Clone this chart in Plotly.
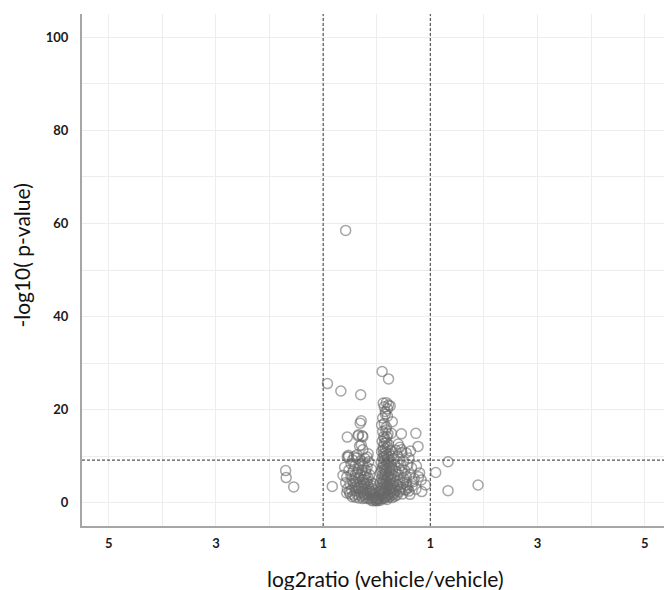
import plotly.graph_objects as go

# ---- data (log2ratio, -log10 p-value) ----
outliers = [
    (-0.58, 58.5), (-0.92, 25.6), (-0.67, 24.0), (-0.30, 23.2), (0.10, 28.2), (0.22, 26.6),
    (0.12, 21.4), (0.18, 21.5), (0.22, 21.0), (0.14, 20.6), (0.20, 20.2), (0.16, 19.6), (0.25, 20.8),
    (-0.29, 17.6), (-0.31, 17.1), (0.11, 18.2), (0.29, 17.4), (0.09, 16.7), (0.18, 16.2),
    (0.46, 14.8), (-0.55, 14.1), (-0.35, 14.4), (-0.27, 14.4), (0.21, 14.8), (0.27, 14.9), (0.13, 14.2),
    (0.73, 14.9), (0.77, 12.1), (0.63, 11.1), (0.43, 11.9), (0.46, 11.4), (0.55, 10.7),
    (1.33, 8.8), (1.10, 6.5), (1.33, 2.6), (0.91, 3.8), (0.84, 2.4), (0.80, 6.4), (0.74, 7.9),
    (0.83, 4.9), (0.55, 2.8), (0.55, 5.6), (1.89, 3.8),
    (-1.70, 6.9), (-1.69, 5.4), (-1.55, 3.4), (-0.83, 3.5), (-0.63, 5.9), (-0.55, 9.9),
    (-0.34, 14.6), (-0.26, 14.2), (-0.32, 12.2), (-0.26, 11.4), (-0.18, 9.8),
]

right_arm = [
    (0.15, 13.8), (0.19, 14.2), (0.11, 15.3), (0.17, 15.6), (0.14, 17.0), (0.20, 18.6), (0.16, 19.0),
    (0.10, 13.2), (0.14, 12.8), (0.18, 13.0), (0.22, 12.5), (0.12, 12.0), (0.16, 11.6), (0.20, 11.9),
    (0.25, 11.2), (0.09, 11.0), (0.13, 10.5), (0.18, 10.2), (0.23, 10.6), (0.28, 10.0), (0.11, 9.6),
    (0.15, 9.2), (0.20, 9.4), (0.26, 9.0), (0.31, 9.5), (0.08, 8.7), (0.12, 8.3), (0.17, 8.0),
    (0.22, 8.5), (0.27, 7.9), (0.33, 8.2), (0.38, 8.8), (0.10, 7.5), (0.14, 7.1), (0.19, 7.3),
    (0.24, 6.9), (0.30, 7.2), (0.36, 6.8), (0.42, 7.4), (0.07, 6.4), (0.11, 6.0), (0.16, 6.2),
    (0.21, 5.8), (0.27, 6.1), (0.33, 5.7), (0.40, 6.0), (0.47, 6.5), (0.09, 5.2), (0.13, 4.9),
    (0.18, 5.0), (0.24, 4.7), (0.29, 5.1), (0.35, 4.6), (0.43, 4.9), (0.50, 5.3), (0.06, 4.2),
    (0.10, 3.9), (0.15, 4.0), (0.20, 3.7), (0.26, 3.9), (0.32, 3.5), (0.38, 3.8), (0.45, 3.4),
    (0.55, 3.9), (0.08, 3.1), (0.12, 2.8), (0.17, 3.0), (0.22, 2.7), (0.28, 2.9), (0.35, 2.6),
    (0.42, 2.4), (0.52, 2.8), (0.60, 2.5), (0.05, 2.3), (0.10, 2.0), (0.15, 2.1), (0.20, 1.9),
    (0.25, 2.0), (0.31, 1.8), (0.38, 1.7), (0.48, 1.9), (0.07, 1.5), (0.12, 1.3), (0.17, 1.4),
    (0.23, 1.2), (0.29, 1.1), (0.04, 1.0), (0.09, 0.8), (0.14, 0.9), (0.19, 0.7), (0.02, 0.6),
    (0.06, 0.5),
    (0.12, 11.3), (0.17, 10.8), (0.14, 9.9), (0.19, 8.8), (0.13, 7.8), (0.09, 6.9), (0.17, 6.7),
    (0.23, 7.6), (0.14, 5.6), (0.20, 5.4), (0.26, 5.5), (0.11, 4.5), (0.17, 4.4), (0.23, 4.2),
    (0.30, 4.2), (0.13, 3.4), (0.19, 3.3), (0.25, 3.2), (0.31, 2.9), (0.08, 2.5), (0.14, 2.4),
    (0.27, 2.4), (0.33, 2.2), (0.10, 1.7), (0.21, 1.6), (0.27, 1.5), (0.34, 1.4), (0.16, 1.1),
]

right_scatter = [
    (0.50, 9.0), (0.58, 8.2), (0.65, 7.5), (0.62, 6.0), (0.70, 5.2), (0.56, 4.4), (0.66, 3.6),
    (0.73, 2.9), (0.62, 1.8), (0.68, 4.5), (0.78, 5.6), (0.52, 7.0), (0.47, 10.8), (0.40, 12.6),
    (0.35, 11.3), (0.39, 10.1), (0.45, 8.0), (0.60, 9.6), (0.49, 4.2), (0.58, 3.2), (0.44, 2.9),
]

left_arm = [
    (-0.53, 10.2), (-0.37, 10.3), (-0.16, 10.5), (-0.29, 12.4),
    (-0.53, 9.8), (-0.45, 9.2), (-0.38, 9.6), (-0.30, 9.0), (-0.22, 9.5), (-0.15, 8.8),
    (-0.48, 8.4), (-0.40, 8.0), (-0.33, 8.2), (-0.25, 7.9), (-0.18, 7.6), (-0.10, 7.2),
    (-0.60, 7.6), (-0.52, 7.0), (-0.44, 6.8), (-0.36, 6.5), (-0.28, 6.9), (-0.20, 6.3),
    (-0.13, 6.0), (-0.56, 5.5), (-0.48, 5.8), (-0.41, 5.2), (-0.34, 5.4), (-0.26, 5.0),
    (-0.19, 4.8), (-0.11, 4.5), (-0.06, 4.0), (-0.58, 4.3), (-0.50, 4.0), (-0.43, 4.2),
    (-0.36, 3.8), (-0.29, 3.6), (-0.22, 3.9), (-0.15, 3.4), (-0.08, 3.0), (-0.55, 3.0),
    (-0.47, 2.8), (-0.40, 2.6), (-0.33, 2.9), (-0.26, 2.5), (-0.19, 2.2), (-0.12, 2.0),
    (-0.05, 1.8), (-0.56, 2.1), (-0.50, 1.9), (-0.43, 1.6), (-0.36, 1.8), (-0.29, 1.4),
    (-0.22, 1.2), (-0.15, 1.0), (-0.09, 0.9), (-0.04, 0.7), (-0.02, 0.5), (-0.33, 1.0),
    (-0.10, 1.5), (-0.06, 1.2), (0.00, 0.4), (0.03, 0.8), (-0.13, 2.5), (-0.08, 2.2),
    (0.04, 1.6), (-0.17, 1.7), (-0.24, 2.0), (0.00, 1.1), (-0.03, 1.4), (0.01, 0.9),
    (-0.42, 9.9), (-0.27, 8.5), (-0.34, 7.3), (-0.21, 7.0), (-0.40, 6.0), (-0.31, 5.9),
    (-0.23, 5.6), (-0.16, 5.3), (-0.45, 4.7), (-0.38, 4.5), (-0.31, 4.4), (-0.24, 4.3),
    (-0.17, 4.1), (-0.10, 3.7), (-0.41, 3.4), (-0.34, 3.3), (-0.27, 3.1), (-0.20, 2.9),
    (-0.13, 2.8), (-0.51, 2.4), (-0.30, 2.2), (-0.23, 1.7), (-0.40, 1.2), (-0.19, 0.9),
    (-0.11, 0.6), (-0.07, 0.4), (-0.26, 0.9), (-0.46, 1.3),
]

fc_threshold = 1.0
p_threshold = 9.15

x_tickvals = [-5, -3, -1, 1, 3, 5]
x_ticktext = ["5", "3", "1", "1", "3", "5"]
y_tickvals = [0, 20, 40, 60, 80, 100]

points = outliers + right_arm + right_scatter + left_arm
xs = [p[0] for p in points]
ys = [p[1] for p in points]

fig = go.Figure()
fig.add_trace(go.Scatter(
    x=xs, y=ys, mode="markers",
    marker=dict(symbol="circle-open", size=10, color="rgba(105,105,105,0.6)",
                line=dict(width=1.5, color="rgba(105,105,105,0.6)")),
    showlegend=False, hoverinfo="x+y",
))

dash_style = dict(color="#555555", width=1.2, dash="3px,2px")
for xv in (-fc_threshold, fc_threshold):
    fig.add_shape(type="line", xref="x", yref="paper", x0=xv, x1=xv, y0=0, y1=1, line=dash_style)
fig.add_shape(type="line", xref="paper", yref="y", x0=0, x1=1, y0=p_threshold, y1=p_threshold, line=dash_style)

tick_font = dict(family="Lato", size=13, color="#1a1a1a", weight="bold")

fig.update_xaxes(
    range=[-5.5, 5.36], tickvals=x_tickvals, ticktext=x_ticktext,
    showgrid=True, gridcolor="#ededed", gridwidth=1,
    minor=dict(tickvals=[-4, -2, 0, 2, 4], showgrid=True, gridcolor="#ededed", gridwidth=1),
    zeroline=False, showline=True, linecolor="#a6a6a6", linewidth=2,
    ticks="", tickfont=tick_font, ticklabelstandoff=4,
)
fig.update_yaxes(
    range=[-5, 105], tickvals=y_tickvals,
    showgrid=True, gridcolor="#ededed", gridwidth=1,
    minor=dict(dtick=10, tick0=0, showgrid=True, gridcolor="#ededed", gridwidth=1),
    zeroline=False, showline=True, linecolor="#a6a6a6", linewidth=2,
    ticks="", tickfont=tick_font, ticklabelstandoff=9,
)

title_font = dict(family="Lato", size=21, color="#111111")
fig.add_annotation(text="log2ratio (vehicle/vehicle)", xref="paper", yref="paper",
                   x=0.521, y=-0.1016, xanchor="center", yanchor="middle",
                   showarrow=False, font=title_font)
fig.add_annotation(text="-log10( p-value)", xref="paper", yref="paper",
                   x=-0.104, y=0.529, xanchor="center", yanchor="middle",
                   textangle=-90, showarrow=False, font=title_font)

fig.update_layout(
    width=664, height=590,
    margin=dict(l=82, r=0, t=14, b=64),
    paper_bgcolor="white", plot_bgcolor="white",
    font=dict(family="Lato"),
)

fig.write_html("out.html")
